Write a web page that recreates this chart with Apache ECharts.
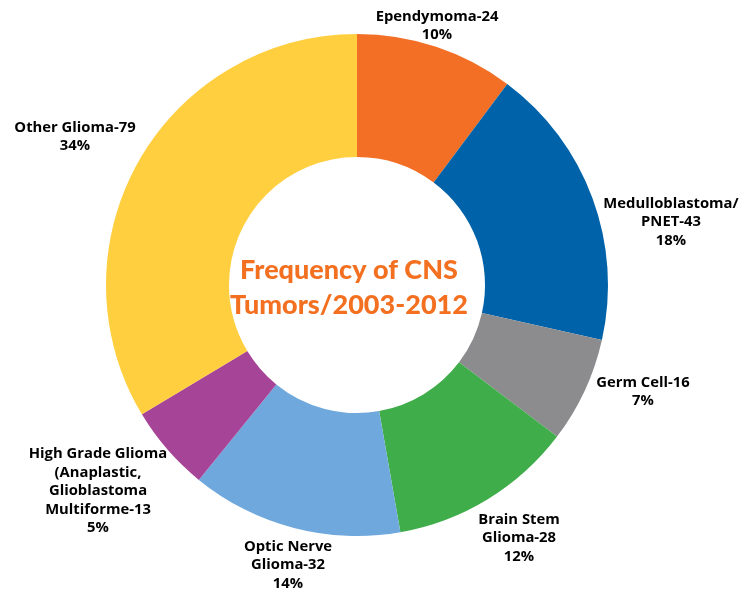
<!DOCTYPE html>
<html><head><meta charset="utf-8">
<script src="https://cdn.jsdelivr.net/npm/echarts@6/dist/echarts.min.js"></script>
<style>html,body{margin:0;padding:0;background:#fff}#c{width:742px;height:593px}</style>
</head><body><div id="c"></div>
<script>
const categories = ["Ependymoma", "Medulloblastoma/\nPNET", "Germ Cell", "Brain Stem\nGlioma", "Optic Nerve\nGlioma", "High Grade Glioma\n(Anaplastic,\nGlioblastoma\nMultiforme", "Other Glioma"];
const values = [24, 43, 16, 28, 32, 13, 79];
const colors = ["#F36F25", "#0062A8", "#8C8C8E", "#3FAD4A", "#6FA8DC", "#A64497", "#FFCF40"];
const titleLines = ["Frequency of CNS", "Tumors/2003-2012"];
const labelPos = [[437,26],[671,222],[643,392],[519,538],[288,565],[98,491],[75,137]];

const chart = echarts.init(document.getElementById('c'));
chart.setOption({
  animation: false,
  graphic: [{
    type: 'text', x: 349, y: 288,
    style: { text: titleLines.join('\n'), fill: '#F37021', font: '900 27px Lato', textAlign: 'center', textVerticalAlign: 'middle', lineHeight: 35 }
  }],
  series: [{
    type: 'pie',
    center: [357, 285],
    radius: [128, 251],
    startAngle: 90,
    clockwise: true,
    percentPrecision: 0,
    data: categories.map((c, i) => ({ name: c, value: values[i], itemStyle: { color: colors[i] } })),
    label: {
      show: true,
      formatter: p => p.name + '-' + p.value + '\n' + p.percent + '%',
      color: '#000',
      fontFamily: 'Open Sans',
      fontWeight: 'bold',
      fontSize: 14.8,
      lineHeight: 18.5,
      align: 'center',
      overflow: 'none',
      width: 300
    },
    labelLine: { show: false },
    labelLayout: function (params) {
      const p = labelPos[params.dataIndex];
      return { x: p[0], y: p[1], align: 'center', verticalAlign: 'middle' };
    }
  }]
});
</script></body></html>
